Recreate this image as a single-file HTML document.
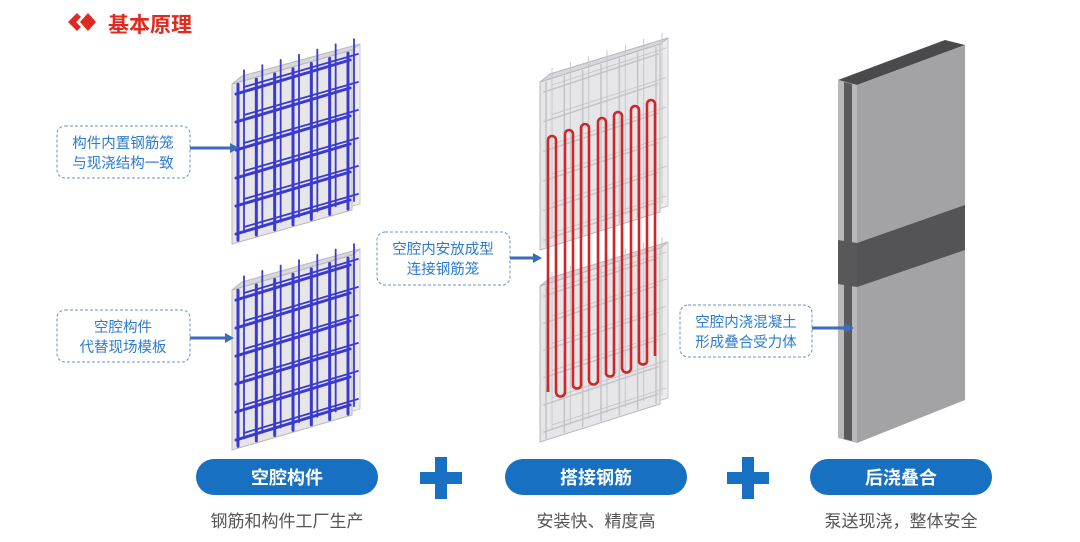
<!DOCTYPE html>
<html><head><meta charset="utf-8"><style>
body{margin:0;background:#fff;}
#w{position:relative;width:1080px;height:542px;overflow:hidden;background:#fff;font-family:"Liberation Sans","Noto Sans CJK SC",sans-serif;}
</style></head><body><div id="w">
<svg id="s" width="1080" height="542" viewBox="0 0 1080 542" xmlns="http://www.w3.org/2000/svg">
<g id="geo"></g>
<g fill="none" stroke="#d0262a" stroke-width="2.6">
<path d="M548 392 V140 A4 4 0 0 1 556 140 V392 A4.5 4.5 0 0 0 565 392"/>
<path d="M565 386 V134 A4 4 0 0 1 573 134 V386 A4.5 4.5 0 0 0 581 386"/>
<path d="M581 380 V128 A4 4 0 0 1 589 128 V380 A4.5 4.5 0 0 0 598 380"/>
<path d="M598 374 V122 A4 4 0 0 1 606 122 V374 A4.5 4.5 0 0 0 614 374"/>
<path d="M614 368 V116 A4 4 0 0 1 622 116 V368 A4.5 4.5 0 0 0 631 368"/>
<path d="M631 362 V110 A4 4 0 0 1 639 110 V362 A4.5 4.5 0 0 0 647 362"/>
<path d="M647 356 V104 A4 4 0 0 1 655 104 V356"/>
<line x1="548" y1="392" x2="548" y2="386"/><line x1="565" y1="392" x2="565" y2="386"/>
<line x1="581" y1="386" x2="581" y2="380"/><line x1="598" y1="380" x2="598" y2="374"/>
<line x1="614" y1="374" x2="614" y2="368"/><line x1="631" y1="368" x2="631" y2="362"/>
<line x1="647" y1="362" x2="647" y2="356"/>
</g>
<!-- header -->
<polygon points="68,22 77,13 81,17 76,22 81,27 77,31" fill="#e02a20"/>
<polygon points="80,22 88,13 96,22 88,31" fill="#e02a20"/>
<text x="108" y="32" font-size="21" font-weight="bold" fill="#e02a20" font-family="Liberation Sans,Noto Sans CJK SC,sans-serif">基本原理</text>
<!-- right wall -->
<polygon points="838,80 945,40 965,45 857,85" fill="#4a4a4c"/>
<polygon points="857,85 965,45 965,400 857,443" fill="#a3a3a5"/>
<polygon points="838,80 857,85 857,443 838,438" fill="#b8b8ba"/>
<polygon points="844,82 852,84 852,441 844,439" fill="#5a5a5c"/>
<polygon points="857,243 965,205 965,250 857,287" fill="#545456"/>
<polygon points="838,240 857,243 857,287 838,284" fill="#58585a"/>
<!-- label boxes -->
<g font-size="14.5" fill="#2b7bd0" text-anchor="middle" font-family="Liberation Sans,Noto Sans CJK SC,sans-serif">
<rect x="57" y="126" width="133" height="52" rx="8" fill="#fff" stroke="#6e8fc4" stroke-dasharray="3,2"/>
<text x="123" y="148">构件内置钢筋笼</text><text x="123" y="168">与现浇结构一致</text>
<rect x="57" y="310" width="133" height="52" rx="8" fill="#fff" stroke="#6e8fc4" stroke-dasharray="3,2"/>
<text x="123" y="332">空腔构件</text><text x="123" y="352">代替现场模板</text>
<rect x="377" y="232" width="133" height="53" rx="8" fill="#fff" stroke="#6e8fc4" stroke-dasharray="3,2"/>
<text x="443" y="254">空腔内安放成型</text><text x="443" y="274">连接钢筋笼</text>
<rect x="680" y="305" width="132" height="52" rx="8" fill="#fff" stroke="#6e8fc4" stroke-dasharray="3,2"/>
<text x="746" y="327">空腔内浇混凝土</text><text x="746" y="347">形成叠合受力体</text>
</g>
<g stroke="#3a6cc0" stroke-width="3" fill="#3a6cc0">
<line x1="190" y1="148" x2="230" y2="148"/><polygon points="230,143 239,148 230,153" stroke="none"/>
<line x1="190" y1="338" x2="225" y2="338"/><polygon points="225,333 234,338 225,343" stroke="none"/>
<line x1="510" y1="258" x2="533" y2="258"/><polygon points="533,253 542,258 533,263" stroke="none"/>
<line x1="812" y1="328" x2="845" y2="328"/><polygon points="845,323 854,328 845,333" stroke="none"/>
</g>
<!-- pills -->
<g fill="#1770c2">
<rect x="196" y="459" width="182" height="36" rx="18"/>
<rect x="505" y="459" width="182" height="36" rx="18"/>
<rect x="810" y="459" width="182" height="36" rx="18"/>
<rect x="420" y="472" width="42" height="12"/><rect x="435" y="457" width="12" height="42"/>
<rect x="727" y="472" width="42" height="12"/><rect x="742" y="457" width="12" height="42"/>
</g>
<g font-size="18" font-weight="bold" fill="#fff" text-anchor="middle" font-family="Liberation Sans,Noto Sans CJK SC,sans-serif">
<text x="287" y="484">空腔构件</text><text x="596" y="484">搭接钢筋</text><text x="901" y="484">后浇叠合</text>
</g>
<g font-size="17" fill="#555" text-anchor="middle" font-family="Liberation Sans,Noto Sans CJK SC,sans-serif">
<text x="287" y="527">钢筋和构件工厂生产</text><text x="596" y="527">安装快、精度高</text><text x="901" y="527">泵送现浇，整体安全</text>
</g>
</svg>
<script>
var g=document.getElementById('geo'),h='';
function P(pts,f,s){h+='<polygon points="'+pts.map(p=>p.join(',')).join(' ')+'" fill="'+f+'" stroke="'+(s||'none')+'"/>';}
function L(a,b,c,w){h+='<line x1="'+a[0]+'" y1="'+a[1]+'" x2="'+b[0]+'" y2="'+b[1]+'" stroke="'+c+'" stroke-width="'+w+'" stroke-linecap="round"/>';}
function panel(Lx,R,Tl,Tr,H,col,w,nv,nh){
 var sl=(Tr-Tl)/(R-Lx);
 P([[Lx+10,Tl-8],[R+8,Tr-6],[R+8,Tr-6+H],[Lx+10,Tl-8+H]],'#ececee','#c8c8cc');
 P([[Lx,Tl],[R,Tr],[R,Tr+H],[Lx,Tl+H]],'#e6e6e9','#b8b8bc');
 P([[Lx,Tl],[Lx+10,Tl-8],[R+8,Tr-6],[R,Tr]],'#d8d8dc','#b8b8bc');
 for(var j=0;j<nh;j++){var y=10+j*(H-20)/(nh-1);
  L([Lx+4,Tl+y],[R-2,Tr+y],col,w);L([Lx+12,Tl+y-7],[R+6,Tr+y-6],col,w*0.6);}
 for(var i=0;i<nv;i++){var x=Lx+6+i*(R-Lx-10)/(nv-1);var y0=Tl+sl*(x-Lx);
  L([x+6,y0-12],[x+6,y0+H-10],col,w*0.6);L([x,y0+2],[x,y0+H-2],col,w);}
}
panel(232,352,84,50,160,'#3a3ad0',3,7,6);
panel(232,352,290,255,160,'#3a3ad0',3,7,6);
panel(540,660,82,44,168,'#c4c4c8',1.5,7,6);
panel(540,660,286,248,156,'#c4c4c8',1.5,7,6);
g.innerHTML=h;
</script>
</div></body></html>
